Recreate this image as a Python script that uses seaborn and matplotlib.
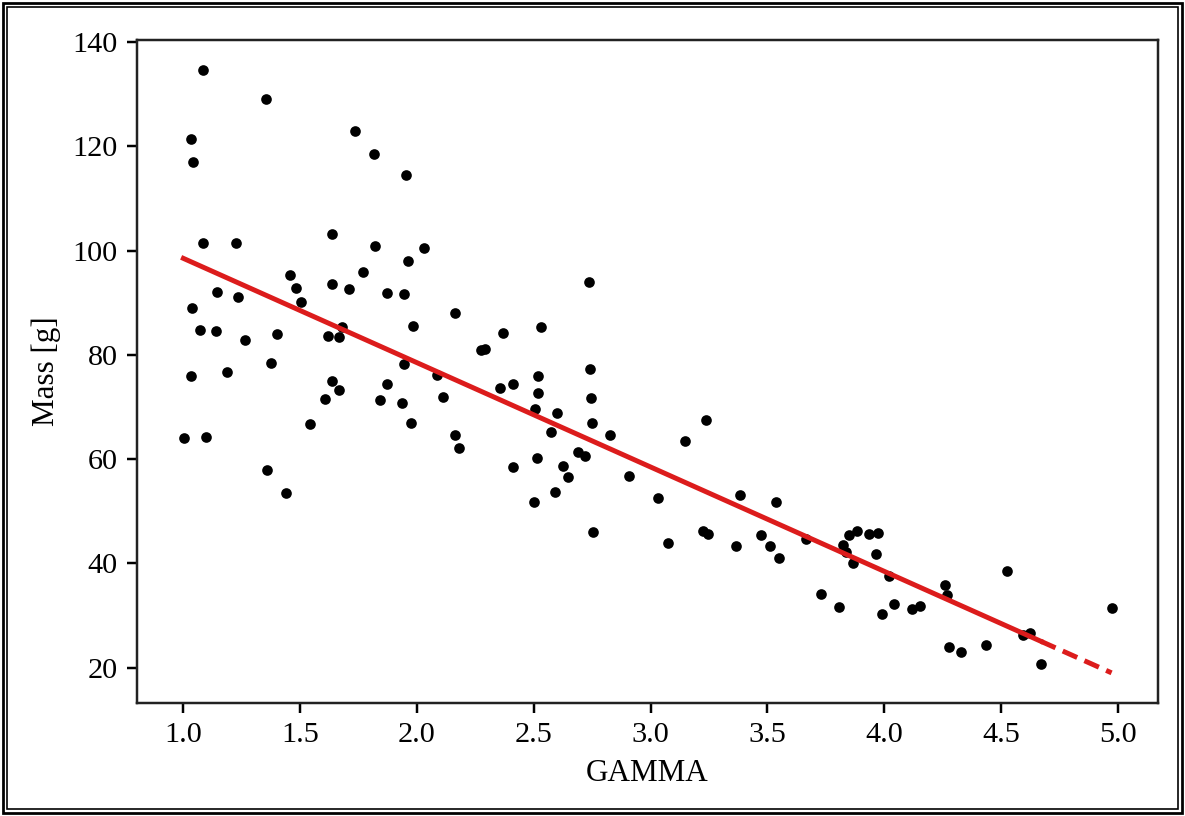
import numpy as np
import pandas as pd
import matplotlib
matplotlib.use("Agg")
import matplotlib.pyplot as plt
import seaborn as sns
from matplotlib.patches import Rectangle

# Measured samples
gamma = [
    1.084, 1.353, 1.034, 1.043, 1.734, 1.815, 1.952, 1.084, 1.225, 1.637,
    1.822, 2.029, 1.963, 1.456, 1.769, 1.481, 1.638, 1.709, 1.872, 1.944,
    1.503, 1.145, 1.235, 1.038, 1.070, 1.141, 1.265, 1.402, 1.620, 1.668,
    1.679, 1.984, 1.946, 2.087, 2.111, 1.031, 1.188, 1.373, 1.638, 1.667,
    1.608, 1.870, 1.843, 1.935, 1.544, 1.973, 1.003, 1.098, 1.356, 1.439,
    2.164, 2.370, 2.533, 2.736, 2.274, 2.292, 2.518, 2.739, 2.356, 2.412,
    2.520, 2.746, 2.506, 2.598, 2.751, 2.573, 2.826, 3.147, 3.238, 2.164,
    2.178, 2.691, 2.718, 2.514, 2.624, 2.645, 2.410, 2.906, 2.593, 2.501,
    3.031, 3.382, 2.752, 3.074, 3.225, 3.245, 3.536, 3.366, 3.474, 3.513,
    3.548, 3.665, 3.826, 3.850, 3.882, 3.937, 3.976, 3.838, 3.868, 3.966,
    4.020, 3.729, 3.809, 3.991, 4.044, 4.118, 4.154, 4.262, 4.268, 4.526,
    4.276, 4.328, 4.436, 4.595, 4.624, 4.672, 4.974,
]
mass = [
    134.6, 129.0, 121.4, 117.0, 122.9, 118.6, 114.4, 101.5, 101.5, 103.2,
    100.8, 100.4, 98.0, 95.4, 95.8, 92.8, 93.5, 92.6, 91.9, 91.7,
    90.1, 92.1, 91.0, 89.0, 84.8, 84.6, 82.9, 84.0, 83.7, 83.4,
    85.3, 85.5, 78.2, 76.2, 72.0, 76.0, 76.8, 78.4, 75.0, 73.3,
    71.5, 74.5, 71.3, 70.8, 66.8, 67.0, 64.1, 64.2, 58.0, 53.6,
    88.1, 84.2, 85.4, 94.0, 81.0, 81.2, 75.9, 77.3, 73.6, 74.5,
    72.7, 71.8, 69.7, 68.9, 66.9, 65.3, 64.7, 63.5, 67.5, 64.7,
    62.2, 61.3, 60.6, 60.3, 58.7, 56.6, 58.5, 56.8, 53.7, 51.7,
    52.6, 53.1, 46.0, 44.0, 46.3, 45.6, 51.7, 43.4, 45.5, 43.3,
    41.1, 44.6, 43.6, 45.5, 46.3, 45.6, 45.9, 42.1, 40.0, 41.8,
    37.5, 34.1, 31.6, 30.4, 32.2, 31.3, 31.8, 35.9, 33.9, 38.6,
    23.9, 23.0, 24.3, 26.2, 26.7, 20.7, 31.5,
]

# Linear trend: fitted part and extrapolated part
fit_slope = -20.0
fit_intercept = 118.5
fit_x_solid = [1.0, 4.672]
fit_x_extrap = [4.672, 4.974]

x_ticks = [1.0, 1.5, 2.0, 2.5, 3.0, 3.5, 4.0, 4.5, 5.0]
y_ticks = [20, 40, 60, 80, 100, 120, 140]

plt.rcParams["font.family"] = ["Liberation Serif", "DejaVu Serif"]

DPI = 198
fig = plt.figure(figsize=(1185 / DPI, 816 / DPI), dpi=DPI)
ax = fig.add_axes([0.1156, 0.1385, 0.8616, 0.8125])

df = pd.DataFrame({"GAMMA": gamma, "Mass": mass})
sns.scatterplot(data=df, x="GAMMA", y="Mass", ax=ax, color="black",
                s=15, linewidth=0, zorder=2)

solid = pd.DataFrame({"x": fit_x_solid})
solid["y"] = fit_intercept + fit_slope * solid["x"]
extrap = pd.DataFrame({"x": fit_x_extrap})
extrap["y"] = fit_intercept + fit_slope * extrap["x"]

sns.lineplot(data=solid, x="x", y="y", ax=ax, color="#dc1c1c",
             linewidth=1.8, zorder=3)
sns.lineplot(data=extrap, x="x", y="y", ax=ax, color="#dc1c1c",
             linewidth=1.8, linestyle=(0, (3.2, 1.6)), zorder=3)

ax.set_xticks(x_ticks)
ax.set_xticklabels([f"{t:.1f}" for t in x_ticks])
ax.set_yticks(y_ticks)
ax.set_yticklabels([str(t) for t in y_ticks])
ax.tick_params(labelsize=11, length=3.5, width=0.9)
ax.set_xlabel("GAMMA", fontsize=11.3)
ax.set_ylabel("Mass [g]", fontsize=11.3)
for sp in ax.spines.values():
    sp.set_linewidth(0.9)
    sp.set_color("#222222")

# Double frame around the figure
for inset, lw in [(3, 1.0), (7, 0.6)]:
    fx = inset / 1185
    fy = inset / 816
    fig.patches.append(Rectangle((fx, fy), 1 - 2 * fx, 1 - 2 * fy,
                                 transform=fig.transFigure, fill=False,
                                 edgecolor="black", linewidth=lw))

fig.savefig("out.png", dpi=DPI)
